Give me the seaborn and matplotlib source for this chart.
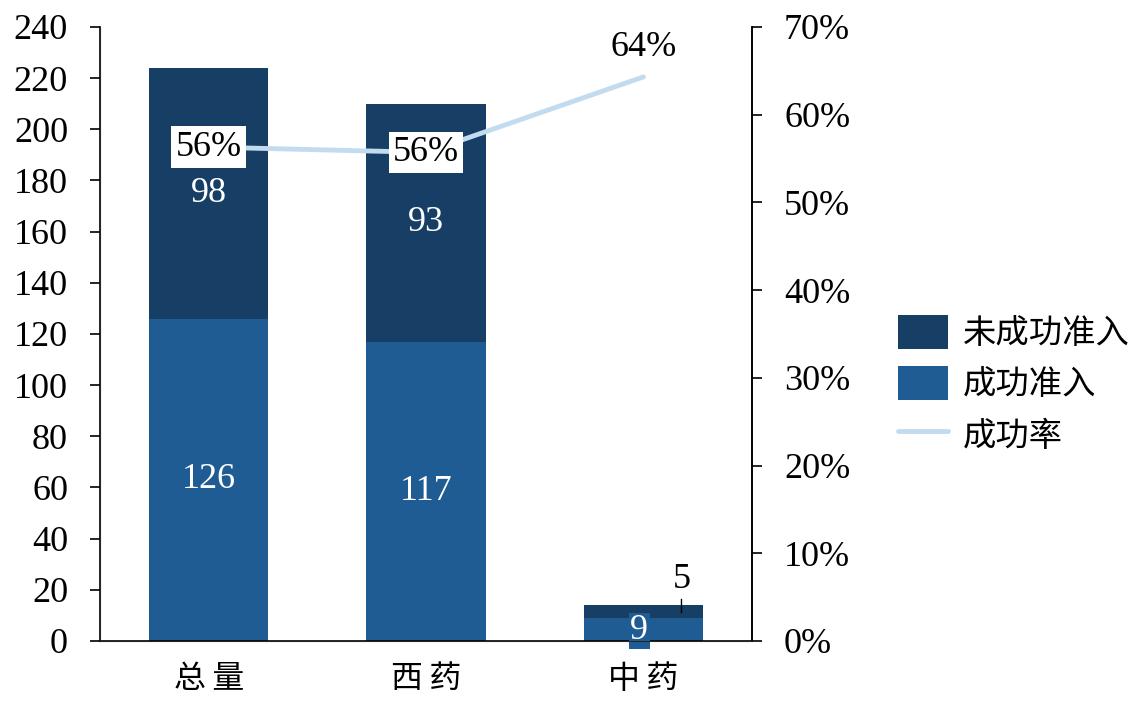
import matplotlib
matplotlib.use("Agg")
import matplotlib.pyplot as plt
import seaborn as sns
import numpy as np
import pandas as pd
from matplotlib.patches import Patch
from matplotlib.lines import Line2D

categories = ["总量", "西药", "中药"]
success = [126, 117, 9]
failed = [98, 93, 5]
rate = [56.3, 55.7, 64.3]
rate_labels = ["56%", "56%", "64%"]
legend_labels = ["未成功准入", "成功准入", "成功率"]

DARK = "#173f66"
MID = "#1f5c93"
LIGHT = "#c3dbef"
FS = 26
CJK = ["Noto Sans CJK SC", "DejaVu Sans"]

sns.set_style("white")
plt.rcParams["font.family"] = ["Liberation Serif", "Noto Sans CJK SC"]
plt.rcParams["text.color"] = "black"
plt.rcParams["xtick.color"] = "black"
plt.rcParams["ytick.color"] = "black"

df = pd.DataFrame({"cat": categories, "success": success, "failed": failed})
df["total"] = df["success"] + df["failed"]

fig = plt.figure(figsize=(11.42, 7.01), dpi=100)
ax = fig.add_axes([0.0876, 0.0856, 0.571, 0.876])

sns.barplot(data=df, x="cat", y="total", color=DARK, width=0.55, ax=ax, saturation=1)
sns.barplot(data=df, x="cat", y="success", color=MID, width=0.55, ax=ax, saturation=1)
for p in ax.patches:
    p.set_edgecolor("none")

ax.set_xlim(-0.5, 2.5)
ax.set_ylim(0, 240)
ax.set_yticks(range(0, 241, 20))
ax.set_xlabel("")
ax.set_ylabel("")
ax.set_xticks(range(3))
ax.set_xticklabels(["\u2009".join(c) for c in categories])
ax.tick_params(axis="y", direction="out", length=7, width=1.2, labelsize=FS, pad=16, left=True)
ax.tick_params(axis="x", length=0, labelsize=23, pad=16)
for lab in ax.get_xticklabels():
    lab.set_family(CJK)
for s in ["left", "bottom", "right"]:
    ax.spines[s].set_color("black")
    ax.spines[s].set_linewidth(1.2)
ax.spines["top"].set_visible(False)

# value labels inside bars
for i in range(2):
    ax.text(i, success[i] / 2, str(success[i]), ha="center", va="center", color="white", fontsize=FS)
    ax.text(i, success[i] + failed[i] / 2, str(failed[i]), ha="center", va="center", color="white", fontsize=FS)
ax.text(2 - 0.02, 4, str(success[2]), ha="center", va="center", color="white", fontsize=FS,
        bbox=dict(facecolor=MID, edgecolor="none", pad=1), clip_on=False, zorder=5)
ax.annotate(str(failed[2]), xy=(2.175, 11), xytext=(2.175, 24), ha="center", va="center",
            fontsize=FS, zorder=6,
            arrowprops=dict(arrowstyle="-", color="black", lw=1, shrinkA=13, shrinkB=0))

ax2 = ax.twinx()
sns.lineplot(x=np.arange(len(categories)), y=rate, color=LIGHT, linewidth=3.5, ax=ax2)
ax2.set_ylim(0, 70)
ax2.set_yticks(range(0, 71, 10))
ax2.set_yticklabels([f"{v}%" for v in range(0, 71, 10)])
ax2.tick_params(axis="y", direction="out", length=7, width=1.2, labelsize=FS, pad=16, right=True)
ax2.spines["top"].set_visible(False)
ax2.spines["right"].set_linewidth(1.2)
ax2.spines["right"].set_color("black")
ax2.set_xlim(-0.5, 2.5)

for i in range(2):
    ax2.text(i, rate[i], rate_labels[i], ha="center", va="center", fontsize=FS, zorder=6,
             bbox=dict(facecolor="white", edgecolor="none", pad=3))
ax2.text(2, rate[2] + 3.4, rate_labels[2], ha="center", va="center", fontsize=FS)

handles = [Patch(facecolor=DARK, edgecolor="none"), Patch(facecolor=MID, edgecolor="none"),
           Line2D([0], [0], color=LIGHT, lw=3.5)]
fig.legend(handles, legend_labels, loc="center left",
           bbox_to_anchor=(0.76, 0.452), frameon=False, handlelength=1.5, handleheight=1.2,
           labelspacing=0.45, handletextpad=0.45,
           prop={"family": CJK, "size": 24})

fig.savefig("out.png", dpi=100)
